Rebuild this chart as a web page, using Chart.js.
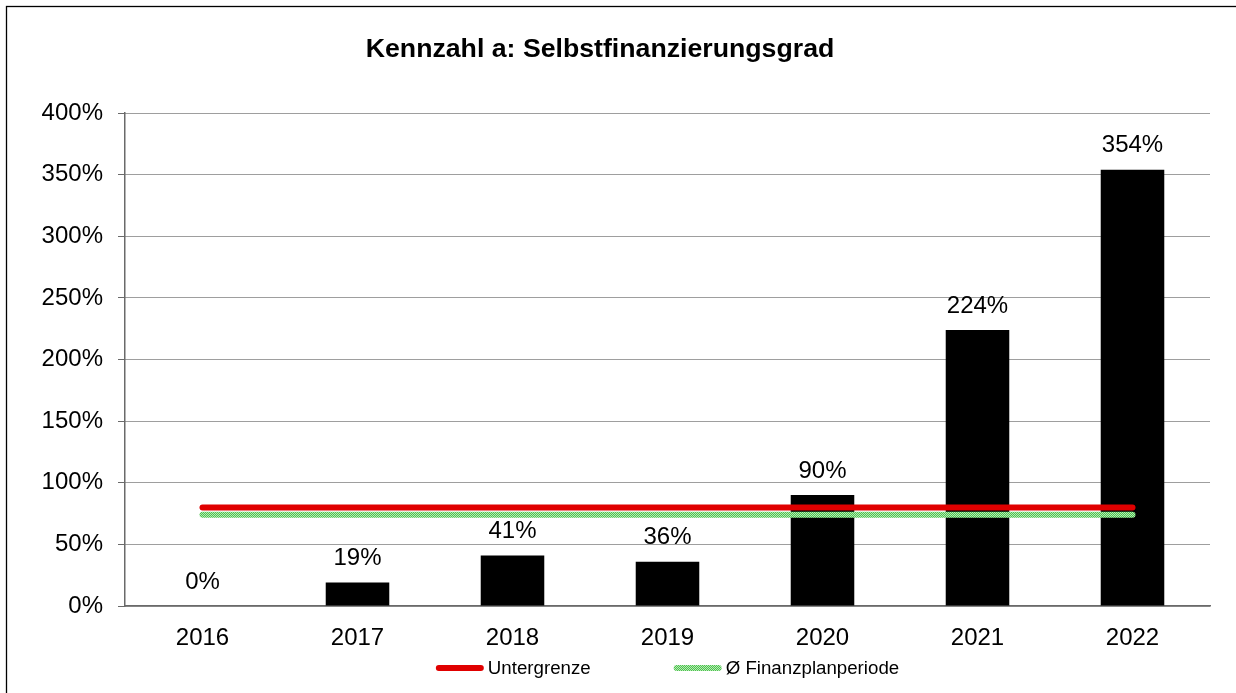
<!DOCTYPE html>
<html>
<head>
<meta charset="utf-8">
<script src="https://cdn.jsdelivr.net/npm/chart.js@4"></script>
<style>
html,body{margin:0;padding:0;background:#fff;overflow:hidden;}
canvas{display:block;}
</style>
</head>
<body>
<canvas id="c" width="1236" height="693"></canvas>
<script>
const titleText = 'Kennzahl a: Selbstfinanzierungsgrad';
const categories = ['2016', '2017', '2018', '2019', '2020', '2021', '2022'];
const selbstfinanzierungsgrad = [0, 19, 41, 36, 90, 224, 354];
const untergrenze = [80, 80, 80, 80, 80, 80, 80];
const finanzplanperiode = [74, 74, 74, 74, 74, 74, 74];
const seriesLabels = ['Selbstfinanzierungsgrad', 'Untergrenze', 'Ø Finanzplanperiode'];
const yMin = 0, yMax = 400, yStep = 50;

const FONT = '"Liberation Sans", Arial, sans-serif';

// green dotted pattern
const pc = document.createElement('canvas');
pc.width = 2; pc.height = 2;
const pctx = pc.getContext('2d');
pctx.fillStyle = '#4fc24f';
pctx.fillRect(0, 0, 2, 2);
pctx.fillStyle = '#b4eab4';
pctx.fillRect(0, 0, 1, 1);
pctx.fillRect(1, 1, 1, 1);
const ctxMain = document.getElementById('c').getContext('2d');
const greenPattern = ctxMain.createPattern(pc, 'repeat');
const RED = '#e00000';

const decorPlugin = {
  id: 'decor',
  beforeDraw(chart) {
    const ctx = chart.ctx;
    ctx.save();
    ctx.fillStyle = '#fff';
    ctx.fillRect(0, 0, chart.width, chart.height);
    ctx.strokeStyle = '#000';
    ctx.lineWidth = 1.3;
    ctx.strokeRect(6.5, 6.5, 1400, 900);
    ctx.fillStyle = '#000';
    ctx.font = 'bold 26.7px ' + FONT;
    ctx.textAlign = 'center';
    ctx.textBaseline = 'alphabetic';
    ctx.fillText(titleText, 600, 57);
    ctx.restore();
  },
  afterDatasetsDraw(chart) {
    const ctx = chart.ctx;
    const meta = chart.getDatasetMeta(0);
    ctx.save();
    ctx.fillStyle = '#000';
    ctx.font = '24px ' + FONT;
    ctx.textAlign = 'center';
    ctx.textBaseline = 'middle';
    meta.data.forEach((bar, i) => {
      ctx.fillText(selbstfinanzierungsgrad[i] + '%', bar.x, bar.y - 24);
    });
    ctx.restore();
  },
  afterDraw(chart) {
    const ctx = chart.ctx;
    const ca = chart.chartArea;
    ctx.save();
    ctx.font = '18.7px ' + FONT;
    ctx.textBaseline = 'middle';
    ctx.fillStyle = '#000';
    const items = [
      {label: seriesLabels[1], stroke: RED},
      {label: seriesLabels[2], stroke: greenPattern}
    ];
    const markerW = 48, gapText = 4, gapItem = 83;
    const widths = items.map(it => markerW + gapText + ctx.measureText(it.label).width);
    const total = widths.reduce((a, b) => a + b, 0) + gapItem * (items.length - 1);
    let x = (ca.left + ca.right) / 2 - total / 2;
    const y = 668;
    items.forEach((it, i) => {
      ctx.beginPath();
      ctx.strokeStyle = it.stroke;
      ctx.lineWidth = 6;
      ctx.lineCap = 'round';
      ctx.moveTo(x + 3, y);
      ctx.lineTo(x + markerW - 3, y);
      ctx.stroke();
      ctx.textAlign = 'left';
      ctx.fillText(it.label, x + markerW + gapText, y + 1);
      x += widths[i] + gapItem;
    });
    ctx.restore();
  }
};

new Chart(ctxMain, {
  type: 'bar',
  data: {
    labels: categories,
    datasets: [
      {
        type: 'bar',
        label: seriesLabels[0],
        data: selbstfinanzierungsgrad,
        backgroundColor: '#000',
        borderWidth: 0,
        barPercentage: 0.41,
        categoryPercentage: 1,
        order: 3
      },
      {
        type: 'line',
        label: seriesLabels[1],
        data: untergrenze,
        borderColor: RED,
        borderWidth: 6,
        borderCapStyle: 'round',
        pointRadius: 0,
        fill: false,
        order: 1
      },
      {
        type: 'line',
        label: seriesLabels[2],
        data: finanzplanperiode,
        borderColor: greenPattern,
        borderWidth: 6,
        borderCapStyle: 'round',
        pointRadius: 0,
        fill: false,
        order: 2
      }
    ]
  },
  options: {
    responsive: false,
    animation: false,
    devicePixelRatio: 1,
    layout: {padding: {left: 0, right: 26, top: 113, bottom: 37}},
    plugins: {
      legend: {display: false},
      title: {display: false},
      tooltip: {enabled: false}
    },
    scales: {
      x: {
        grid: {display: false},
        border: {display: true, color: '#6a6a6a', width: 1.5},
        ticks: {color: '#000', font: {family: FONT, size: 24}, padding: 10, maxRotation: 0},
        afterFit(scale) { scale.height = 50; }
      },
      y: {
        min: yMin,
        max: yMax,
        ticks: {
          stepSize: yStep,
          color: '#000',
          font: {family: FONT, size: 24},
          padding: 15,
          callback: v => v + '%'
        },
        grid: {color: '#3c3c3c', tickColor: '#6a6a6a', tickLength: 7, tickBorderDash: [], lineWidth: 1},
        border: {display: true, color: '#6a6a6a', width: 1.5, dash: [1, 1]},
        afterFit(scale) { scale.width = 125; }
      }
    }
  },
  plugins: [decorPlugin]
});
</script>
</body>
</html>
